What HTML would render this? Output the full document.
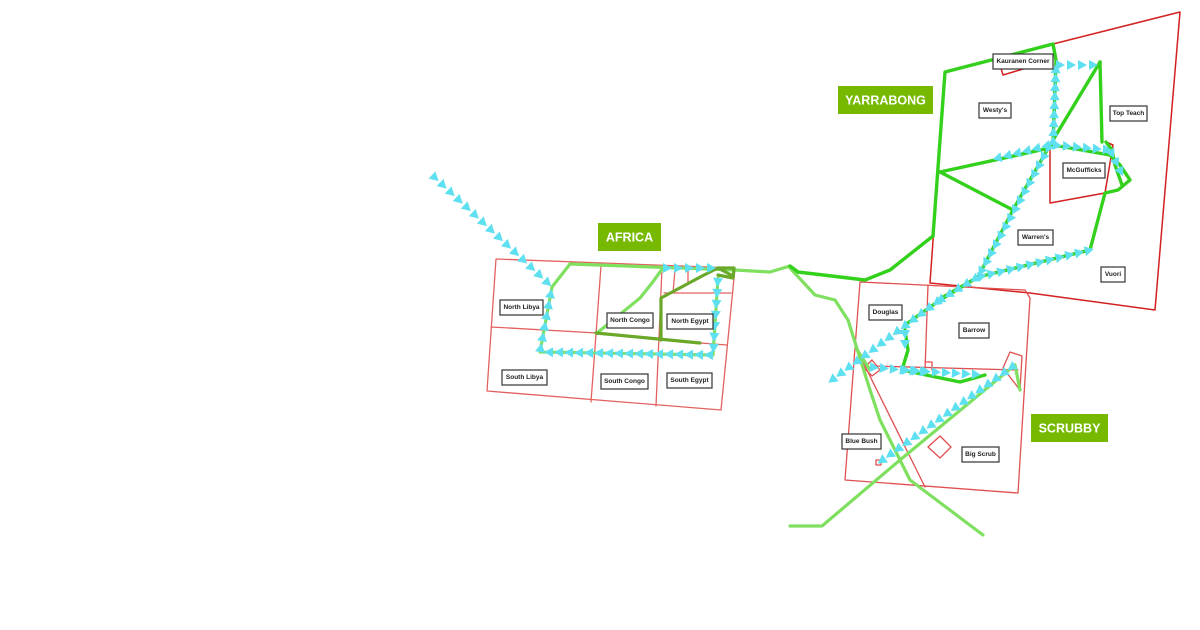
<!DOCTYPE html>
<html><head><meta charset="utf-8"><style>
html,body{margin:0;padding:0;background:#fff;width:1200px;height:630px;overflow:hidden}
svg{display:block}
.lb{fill:#fff;stroke:#333;stroke-width:1.2}
.lt{font-family:"Liberation Sans",sans-serif;font-size:6.5px;font-weight:bold;fill:#222;text-anchor:middle;dominant-baseline:central}
.tt{font-family:"Liberation Sans",sans-serif;font-size:12.5px;font-weight:bold;fill:#fff;text-anchor:middle;dominant-baseline:central}
</style></head><body>
<svg id="s" width="1200" height="630" viewBox="0 0 1200 630" xmlns="http://www.w3.org/2000/svg">
<g fill="none" stroke-linejoin="round" stroke-linecap="round">
<g stroke="#e05050" stroke-width="1.3" opacity="0.9">
<polygon points="496,259 735,268 721,410 487,391"/>
<polyline points="491,327 597,333 660,340 727,345"/>
<line x1="601" y1="266" x2="591" y2="402"/>
<line x1="662" y1="268" x2="656" y2="406"/>
<line x1="664" y1="293" x2="731" y2="293"/>
<line x1="675" y1="270" x2="673" y2="293"/>
<line x1="688" y1="270" x2="688" y2="283"/>
</g>
<g stroke="#d42020" stroke-width="1.5">
<polyline points="1053,44 1180,12 1155,310 1030,293 930,283 945,72"/>
<polyline points="1050,148 1050,203 1105,193 1113,145 1106,142"/>
<polyline points="1000,65 1003,75 1040,64"/>
</g>
<g stroke="#e05050" stroke-width="1.3">
<polygon points="860,282 1025,290 1030,298 1018,493 845,480"/>
<line x1="928" y1="285" x2="925" y2="370"/>
<polyline points="873,366 1018,370"/>
<line x1="856" y1="348" x2="925" y2="487"/>
<polyline points="1010,352 1022,356 1020,390 1003,368 1010,352"/>
<polygon points="928,447 940,436 951,447 940,458"/>
<polygon points="864,368 872,360 880,370 872,376"/>
<polyline points="925,362 932,362 932,370"/>
<rect x="876" y="460" width="5" height="5"/>
</g>
<g stroke="#7fe060" stroke-width="3.2">
<polyline points="570,264 735,270 770,272 790,266"/>
<polyline points="570,264 552,287 540,352 713,355 718,278"/>
<polyline points="597,333 640,298 652,283 663,268"/>
<polyline points="790,268 815,295 835,300 848,320 870,390 880,420 910,480 983,535"/>
<polyline points="790,526 822,526 900,460 1015,365 1020,390"/>
<polyline points="856,348 870,370"/>
</g>
<g stroke="#6aa82a" stroke-width="3.2">
<polyline points="596,333 700,343"/>
<polyline points="661,340 661,298 704,275 718,268 733,276"/>
<polyline points="718,268 734,268 733,278 718,275"/>
</g>
<g stroke="#33d01c" stroke-width="3.4">
<polyline points="790,266 798,272 865,280 890,270 933,236"/>
<polyline points="933,236 945,72 1053,44 1056,60 1053,145 1110,155 1120,165 1130,180 1118,190 1105,193 1090,250 978,277 938,300"/>
<polyline points="1100,62 1050,145 1013,210 978,277 940,300 905,325"/>
<polyline points="1100,62 1102,142"/>
<polyline points="940,172 1050,148"/>
<polyline points="940,172 1013,210"/>
<polyline points="905,330 908,350 902,370 960,382 985,375"/>
<polyline points="1106,142 1112,150 1115,165 1122,185"/>
</g>
<g id="arr" fill="#5ee0f0" stroke="none"></g>
</g>
<g>
<rect class="lb" x="500" y="300" width="43" height="15"/><text class="lt" x="521.5" y="307.5">North Libya</text>
<rect class="lb" x="607" y="313" width="46" height="15"/><text class="lt" x="630" y="320.5">North Congo</text>
<rect class="lb" x="667" y="314" width="46" height="15"/><text class="lt" x="690" y="321.5">North Egypt</text>
<rect class="lb" x="502" y="370" width="45" height="15"/><text class="lt" x="524.5" y="377.5">South Libya</text>
<rect class="lb" x="601" y="374" width="47" height="15"/><text class="lt" x="624.5" y="381.5">South Congo</text>
<rect class="lb" x="667" y="373" width="45" height="15"/><text class="lt" x="689.5" y="380.5">South Egypt</text>
<rect class="lb" x="993" y="54" width="60" height="15"/><text class="lt" x="1023" y="61.5">Kauranen Corner</text>
<rect class="lb" x="979" y="103" width="32" height="15"/><text class="lt" x="995" y="110.5">Westy's</text>
<rect class="lb" x="1110" y="106" width="37" height="15"/><text class="lt" x="1128.5" y="113.5">Top Teach</text>
<rect class="lb" x="1063" y="163" width="42" height="15"/><text class="lt" x="1084" y="170.5">McGufficks</text>
<rect class="lb" x="1018" y="230" width="35" height="15"/><text class="lt" x="1035.5" y="237.5">Warren's</text>
<rect class="lb" x="1101" y="267" width="24" height="15"/><text class="lt" x="1113" y="274.5">Vuori</text>
<rect class="lb" x="869" y="305" width="33" height="15"/><text class="lt" x="885.5" y="312.5">Douglas</text>
<rect class="lb" x="959" y="323" width="30" height="15"/><text class="lt" x="974" y="330.5">Barrow</text>
<rect class="lb" x="842" y="434" width="39" height="15"/><text class="lt" x="861.5" y="441.5">Blue Bush</text>
<rect class="lb" x="962" y="447" width="37" height="15"/><text class="lt" x="980.5" y="454.5">Big Scrub</text>
<rect x="598" y="223" width="63" height="28" fill="#76b900"/><text class="tt" x="629.5" y="237.5">AFRICA</text>
<rect x="838" y="86" width="95" height="28" fill="#76b900"/><text class="tt" x="885.5" y="100.5">YARRABONG</text>
<rect x="1031" y="414" width="77" height="28" fill="#76b900"/><text class="tt" x="1069.5" y="428.5">SCRUBBY</text>
</g>
</svg>
<script>
var g=document.getElementById('arr');
function tr(pts,sp){for(var i=0;i<pts.length-1;i++){var a=pts[i],b=pts[i+1];var dx=b[0]-a[0],dy=b[1]-a[1],L=Math.hypot(dx,dy),ux=dx/L,uy=dy/L;for(var t=4;t<L;t+=sp){var x=a[0]+ux*t,y=a[1]+uy*t;var p=[[x+ux*5,y+uy*5],[x-ux*4-uy*5,y-uy*4+ux*5],[x-ux*4+uy*5,y-uy*4-ux*5]];var e=document.createElementNS('http://www.w3.org/2000/svg','polygon');e.setAttribute('points',p.map(function(q){return q.join(',')}).join(' '));g.appendChild(e);}}}
tr([[432,175],[550,285]],11);
tr([[713,355],[540,352]],10);
tr([[540,352],[552,287]],11);
tr([[718,278],[713,355]],11);
tr([[663,268],[718,268]],11);
tr([[1056,65],[1100,65]],11);
tr([[1053,145],[1056,65]],9);
tr([[1050,145],[990,160]],10);
tr([[1053,145],[1110,150],[1125,180]],10);
tr([[1050,145],[978,277],[940,300],[832,380]],10);
tr([[978,277],[1090,250]],10);
tr([[905,330],[905,350]],10);
tr([[870,367],[925,372]],10);
tr([[902,370],[985,375]],10);
tr([[1015,365],[880,462]],10);
</script>
</body></html>
